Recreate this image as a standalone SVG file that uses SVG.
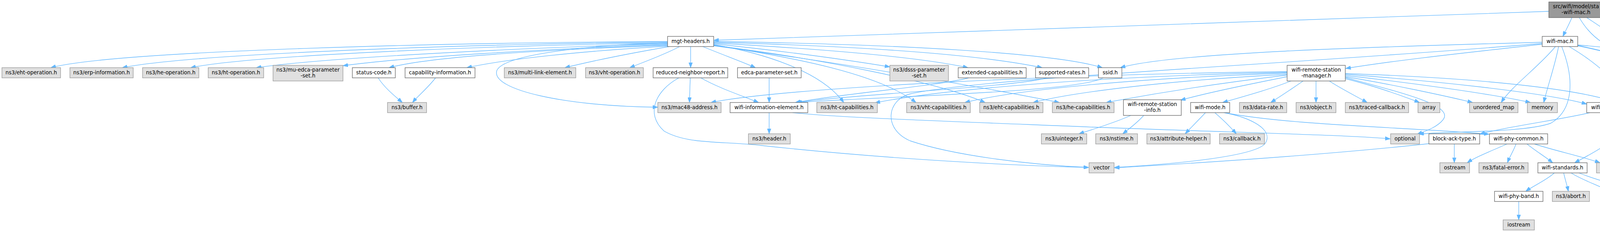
<svg xmlns="http://www.w3.org/2000/svg" width="4428" height="593" viewBox="0 0 4428 593">
<style>
rect{stroke-width:1.33}
.g rect{fill:#e0e0e0;stroke:#999999}
.w rect{fill:#ffffff;stroke:#666666}
.r rect{fill:#999999;stroke:#666666}
text{font-family:"DejaVu Sans","Liberation Sans",sans-serif;font-size:13.33px;text-anchor:middle;fill:#000000}
#edges path{fill:none;stroke:#63b8ff;stroke-width:1.33;marker-end:url(#a)}
</style>
<defs>
<marker id="a" viewBox="0 0 13 9.4" refX="13" refY="4.7" markerWidth="13" markerHeight="9.4" markerUnits="userSpaceOnUse" orient="auto"><path d="M0,0L13,4.7L0,9.4z" fill="#63b8ff" stroke="#63b8ff" stroke-width="1"/></marker>
</defs>
<rect width="4428" height="593" fill="#ffffff"/>
<g id="edges">
<path d="M3965,29 C3400,50 2300,85 1827,103"/>
<path d="M4024,45 C4018,60 4008,78 4001,93"/>
<path d="M4062,45 C4085,60 4110,76 4131,93"/>
<path d="M4043,45 C4075,100 4120,130 4210,147 C4290,160 4340,163 4379,174"/>
<path d="M1709,106 C1200,108 300,128 130,173"/>
<path d="M1709,108 C1300,110 500,135 313,173"/>
<path d="M1709,110 C1300,115 650,140 488,173"/>
<path d="M1709,112 C1400,120 850,145 656,173"/>
<path d="M1709,114 C1400,125 1050,145 878,168"/>
<path d="M1709,116 C1400,127 1100,145 996,173"/>
<path d="M1709,118 C1500,130 1300,150 1195,173"/>
<path d="M1714,119 C1620,135 1520,155 1446,173"/>
<path d="M1740,119 C1700,140 1650,158 1612,173"/>
<path d="M1768,119 L1768,173"/>
<path d="M1799,119 C1850,140 1900,158 1934,173"/>
<path d="M1827,112 C2000,130 2150,150 2278,171"/>
<path d="M1827,110 C2100,125 2350,145 2478,173"/>
<path d="M1827,108 C2200,118 2500,138 2668,173"/>
<path d="M1827,106 C2300,113 2700,135 2822,173"/>
<path d="M1827,114 C1950,135 2100,180 2160,262"/>
<path d="M1827,115 C2050,150 2250,190 2345,262"/>
<path d="M1827,116 C2100,150 2400,210 2522,262"/>
<path d="M1827,117 C2150,160 2500,220 2712,262"/>
<path d="M1709,110 C1500,115 1290,140 1272,180 C1255,230 1450,272 1684,274"/>
<path d="M968,199 C985,225 1010,245 1030,262"/>
<path d="M1115,199 C1095,225 1070,245 1056,262"/>
<path d="M1767,199 L1765,262"/>
<path d="M1794,199 C1840,225 1900,245 1942,262"/>
<path d="M1738,199 C1680,230 1650,290 1700,335 C1760,370 1850,360 1950,372 C2300,410 2650,425 2787,428"/>
<path d="M1969,199 L1969,262"/>
<path d="M2480,199 C2400,220 2150,240 2036,262"/>
<path d="M2680,199 C2600,222 2200,240 2038,262"/>
<path d="M2824,199 C2760,235 2300,245 2040,262"/>
<path d="M1969,288 L1969,342"/>
<path d="M2029,288 C2150,300 2300,305 2800,325 C3200,340 3450,345 3559,355"/>
<path d="M3948,108 C3500,120 3000,135 2868,173"/>
<path d="M3948,113 C3800,130 3600,150 3445,175"/>
<path d="M3948,111 C3300,165 2500,200 2330,240 C2270,255 2260,330 2330,360 C2450,400 2650,422 2787,428"/>
<path d="M3982,119 C3940,170 3870,220 3843,262"/>
<path d="M3990,119 C3980,170 3962,220 3952,262"/>
<path d="M3998,119 C4030,200 4030,280 3970,315 C3900,340 3700,335 3632,343"/>
<path d="M4017,119 C4120,180 4180,250 4170,300 C4160,350 4080,390 4031,416"/>
<path d="M4039,116 C4150,140 4230,160 4250,220 C4262,270 4262,310 4261,342"/>
<path d="M4039,117 C4200,150 4340,200 4343,290 C4346,380 4320,440 4270,489"/>
<path d="M4039,115 C4200,128 4300,140 4379,173"/>
<path d="M3305,207 C3260,225 3200,242 3130,262"/>
<path d="M3336,207 C3310,225 3280,245 3253,262"/>
<path d="M3369,207 L3369,262"/>
<path d="M3403,207 C3430,225 3470,245 3500,262"/>
<path d="M3444,201 C3520,220 3590,245 3634,262"/>
<path d="M3444,196 C3560,215 3700,245 3770,262"/>
<path d="M3444,193 C3600,210 3820,240 3918,262"/>
<path d="M3444,190 C3650,205 3950,235 4062,266"/>
<path d="M3444,188 C3800,200 4100,230 4180,280 C4220,305 4240,325 4252,342"/>
<path d="M3444,198 C3600,240 3720,270 3695,305 C3680,325 3650,335 3628,343"/>
<path d="M3295,196 C3200,215 3100,235 3022,256"/>
<path d="M3295,192 C3100,215 2950,240 2832,262"/>
<path d="M3295,190 C3000,205 2750,235 2645,262"/>
<path d="M3295,187 C2900,200 2600,230 2470,262"/>
<path d="M3295,185 C2800,195 2400,230 2240,263"/>
<path d="M3295,183 C2700,190 2000,225 1820,262"/>
<path d="M2895,295 C2850,315 2800,330 2762,342"/>
<path d="M2928,295 C2910,315 2890,330 2874,342"/>
<path d="M3086,288 C3070,305 3050,325 3034,342"/>
<path d="M3110,288 C3130,305 3150,325 3165,342"/>
<path d="M3133,288 C3200,300 3260,330 3240,365 C3220,400 3000,420 2853,428"/>
<path d="M3135,288 C3300,320 3600,325 3812,343"/>
<path d="M4070,288 C4000,305 3850,325 3788,343"/>
<path d="M4110,288 C4115,330 4120,380 4124,416"/>
<path d="M4115,288 C4150,350 4220,430 4243,489"/>
<path d="M3723,368 L3723,416"/>
<path d="M3660,367 C3400,395 3100,415 2853,429"/>
<path d="M3858,368 C3820,385 3780,400 3756,416"/>
<path d="M3881,368 C3875,385 3865,400 3859,416"/>
<path d="M3909,368 C3930,385 3955,400 3975,416"/>
<path d="M3928,368 C3980,385 4050,400 4096,416"/>
<path d="M3979,442 C3960,460 3925,475 3906,489"/>
<path d="M4003,442 C4007,460 4012,475 4015,489"/>
<path d="M4022,442 C4050,460 4095,475 4120,489"/>
<path d="M4042,442 C4100,465 4180,485 4234,494"/>
<path d="M3888,515 L3888,562"/>
<path d="M4238,368 C4210,385 4170,400 4150,416"/>
<path d="M4249,368 C4220,400 4170,450 4155,489"/>
</g>
<g id="root" class="r"><rect x="3965" y="5" width="139" height="40"/><text x="4034.5" y="21">src/wifi/model/sta</text><text x="4034.5" y="35.5">-wifi-mac.h</text></g>
<g id="mgt" class="w"><rect x="1709" y="93" width="118" height="26"/><text x="1768" y="110">mgt-headers.h</text></g>
<g id="wifimac" class="w"><rect x="3948" y="93" width="91" height="26"/><text x="3993.5" y="110">wifi-mac.h</text></g>
<g id="variant" class="g"><rect x="4114" y="93" width="68" height="26"/><text x="4148" y="110">variant</text></g>
<g id="ehtop" class="g"><rect x="5" y="173" width="150" height="26"/><text x="80" y="190">ns3/eht-operation.h</text></g>
<g id="erp" class="g"><rect x="179" y="173" width="162" height="26"/><text x="260" y="190">ns3/erp-information.h</text></g>
<g id="heop" class="g"><rect x="365" y="173" width="144" height="26"/><text x="437" y="190">ns3/he-operation.h</text></g>
<g id="htop" class="g"><rect x="533" y="173" width="142" height="26"/><text x="604" y="190">ns3/ht-operation.h</text></g>
<g id="muedca" class="g"><rect x="699" y="167" width="179" height="40"/><text x="788.5" y="183">ns3/mu-edca-parameter</text><text x="788.5" y="197.5">-set.h</text></g>
<g id="status" class="w"><rect x="902" y="173" width="110" height="26"/><text x="957" y="190">status-code.h</text></g>
<g id="capinfo" class="w"><rect x="1037" y="173" width="179" height="26"/><text x="1126.5" y="190">capability-information.h</text></g>
<g id="mle" class="g"><rect x="1291" y="173" width="183" height="26"/><text x="1382.5" y="190">ns3/multi-link-element.h</text></g>
<g id="vhtop" class="g"><rect x="1499" y="173" width="148" height="26"/><text x="1573" y="190">ns3/vht-operation.h</text></g>
<g id="rnr" class="w"><rect x="1672" y="173" width="191" height="26"/><text x="1767.5" y="190">reduced-neighbor-report.h</text></g>
<g id="edca" class="w"><rect x="1888" y="173" width="163" height="26"/><text x="1969.5" y="190">edca-parameter-set.h</text></g>
<g id="dsss" class="g"><rect x="2278" y="167" width="150" height="40"/><text x="2353" y="183">ns3/dsss-parameter</text><text x="2353" y="197.5">-set.h</text></g>
<g id="extcap" class="w"><rect x="2453" y="173" width="174" height="26"/><text x="2540" y="190">extended-capabilities.h</text></g>
<g id="suprates" class="w"><rect x="2651" y="173" width="136" height="26"/><text x="2719" y="190">supported-rates.h</text></g>
<g id="ssid" class="w"><rect x="2812" y="173" width="60" height="26"/><text x="2842" y="190">ssid.h</text></g>
<g id="wrsm" class="w"><rect x="3295" y="167" width="149" height="40"/><text x="3369.5" y="183">wifi-remote-station</text><text x="3369.5" y="197.5">-manager.h</text></g>
<g id="set" class="g"><rect x="4380" y="173" width="44" height="26"/><text x="4402" y="190">set</text></g>
<g id="buffer" class="g"><rect x="992" y="262" width="100" height="26"/><text x="1042" y="279">ns3/buffer.h</text></g>
<g id="mac48" class="g"><rect x="1684" y="262" width="162" height="26"/><text x="1765" y="279">ns3/mac48-address.h</text></g>
<g id="wie" class="w"><rect x="1869" y="262" width="199" height="26"/><text x="1968.5" y="279">wifi-information-element.h</text></g>
<g id="htcap" class="g"><rect x="2091" y="262" width="155" height="26"/><text x="2168.5" y="279">ns3/ht-capabilities.h</text></g>
<g id="vhtcap" class="g"><rect x="2321" y="262" width="163" height="26"/><text x="2402.5" y="279">ns3/vht-capabilities.h</text></g>
<g id="ehtcap" class="g"><rect x="2508" y="262" width="162" height="26"/><text x="2589" y="279">ns3/eht-capabilities.h</text></g>
<g id="hecap" class="g"><rect x="2694" y="262" width="158" height="26"/><text x="2773" y="279">ns3/he-capabilities.h</text></g>
<g id="wrsi" class="w"><rect x="2876" y="255" width="148" height="40"/><text x="2950" y="271">wifi-remote-station</text><text x="2950" y="285.5">-info.h</text></g>
<g id="wmode" class="w"><rect x="3048" y="262" width="100" height="26"/><text x="3098" y="279">wifi-mode.h</text></g>
<g id="datarate" class="g"><rect x="3173" y="262" width="121" height="26"/><text x="3233.5" y="279">ns3/data-rate.h</text></g>
<g id="object" class="g"><rect x="3318" y="262" width="102" height="26"/><text x="3369" y="279">ns3/object.h</text></g>
<g id="traced" class="g"><rect x="3444" y="262" width="162" height="26"/><text x="3525" y="279">ns3/traced-callback.h</text></g>
<g id="array" class="g"><rect x="3630" y="262" width="56" height="26"/><text x="3658" y="279">array</text></g>
<g id="umap" class="g"><rect x="3762" y="262" width="124" height="26"/><text x="3824" y="279">unordered_map</text></g>
<g id="memory" class="g"><rect x="3910" y="262" width="77" height="26"/><text x="3948.5" y="279">memory</text></g>
<g id="wutils" class="w"><rect x="4062" y="262" width="91" height="26"/><text x="4107.5" y="279">wifi-utils.h</text></g>
<g id="header" class="g"><rect x="1916" y="342" width="107" height="26"/><text x="1969.5" y="359">ns3/header.h</text></g>
<g id="uint" class="g"><rect x="2666" y="342" width="116" height="26"/><text x="2724" y="359">ns3/uinteger.h</text></g>
<g id="nstime" class="g"><rect x="2805" y="342" width="107" height="26"/><text x="2858.5" y="359">ns3/nstime.h</text></g>
<g id="attr" class="g"><rect x="2936" y="342" width="162" height="26"/><text x="3017" y="359">ns3/attribute-helper.h</text></g>
<g id="callback" class="g"><rect x="3122" y="342" width="115" height="26"/><text x="3179.5" y="359">ns3/callback.h</text></g>
<g id="optional" class="g"><rect x="3560" y="342" width="74" height="26"/><text x="3597" y="359">optional</text></g>
<g id="bat" class="w"><rect x="3658" y="342" width="130" height="26"/><text x="3723" y="359">block-ack-type.h</text></g>
<g id="wpc" class="w"><rect x="3813" y="342" width="149" height="26"/><text x="3887.5" y="359">wifi-phy-common.h</text></g>
<g id="qos" class="w"><rect x="4215" y="342" width="89" height="26"/><text x="4259.5" y="359">qos-utils.h</text></g>
<g id="vector" class="g"><rect x="2788" y="416" width="64" height="26"/><text x="2820" y="433">vector</text></g>
<g id="ostream" class="g"><rect x="3686" y="416" width="76" height="26"/><text x="3724" y="433">ostream</text></g>
<g id="fatal" class="g"><rect x="3786" y="416" width="126" height="26"/><text x="3849" y="433">ns3/fatal-error.h</text></g>
<g id="wstd" class="w"><rect x="3937" y="416" width="126" height="26"/><text x="4000" y="433">wifi-standards.h</text></g>
<g id="ptr" class="g"><rect x="4087" y="416" width="79" height="26"/><text x="4126.5" y="433">ns3/ptr.h</text></g>
<g id="wpb" class="w"><rect x="3826" y="489" width="124" height="26"/><text x="3888" y="506">wifi-phy-band.h</text></g>
<g id="abort" class="g"><rect x="3974" y="489" width="95" height="26"/><text x="4021.5" y="506">ns3/abort.h</text></g>
<g id="map" class="g"><rect x="4116" y="489" width="51" height="26"/><text x="4141.5" y="506">map</text></g>
<g id="list" class="g"><rect x="4234" y="489" width="41" height="26"/><text x="4254.5" y="506">list</text></g>
<g id="iostream" class="g"><rect x="3848" y="562" width="80" height="26"/><text x="3888" y="579">iostream</text></g>
</svg>
